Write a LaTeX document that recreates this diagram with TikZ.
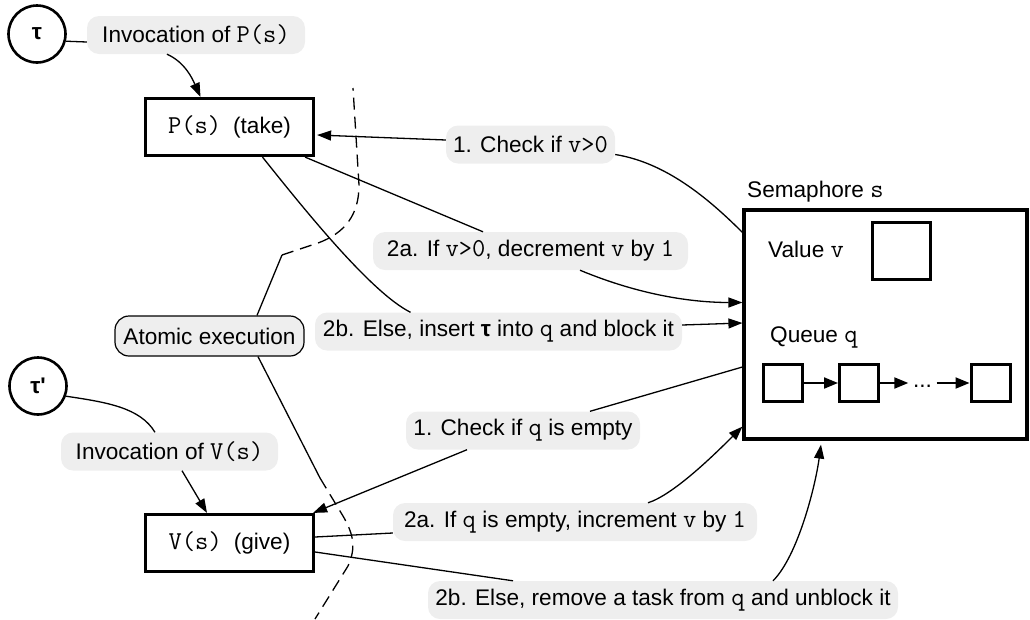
\documentclass[tikz,border=0pt]{standalone}
\usepackage{fontspec}
\setmainfont{Liberation Sans}
\setmonofont{Latin Modern Mono}[Scale=1.14]
\usetikzlibrary{arrows.meta}
\definecolor{lblgray}{HTML}{EEEEEE}
\begin{document}
\begin{tikzpicture}[x=1pt,y=-1pt,
  font=\fontsize{22.6}{27}\selectfont,
  conn/.style={line width=1.3pt},
  arr/.style={conn,-{Triangle[length=14pt,width=10pt]}},
  qarr/.style={line width=2pt,-{Triangle[length=14pt,width=11pt]}},
  dashln/.style={line width=1.3pt,dash pattern=on 12pt off 7pt},
  lbl/.style={fill=lblgray,rounded corners=12pt,inner xsep=0pt,inner ysep=0pt,minimum height=38pt},
  atomic/.style={lbl,draw,line width=1.2pt,rounded corners=14pt,minimum height=40pt},
  pbox/.style={draw,line width=3.2pt,minimum width=168pt,minimum height=57pt,inner sep=0pt},
  sbox/.style={draw,line width=3.2pt,inner sep=0pt},
  sq/.style={draw,line width=3pt,inner sep=0pt},
  circ/.style={draw,circle,line width=2.6pt,minimum size=57pt,inner sep=0pt},
  txt/.style={inner sep=0pt}
]
\useasboundingbox (0,0) rectangle (1030,619);

% nodes
\node[circ] (t1) at (37,34) {\bfseries τ};
\node[lbl,minimum width=218pt] (inv1) at (196,35) {Invocation of \texttt{P(s)}};
\node[pbox] (P) at (229.5,127) {\texttt{P(s)}\hspace{12pt}(take)};
\node[lbl,minimum width=169pt] (c1) at (530.5,144.5) {1. Check if \texttt{v>0}};
\node[lbl,minimum width=315pt] (a2) at (530.5,251) {2a. If \texttt{v>0}, decrement \texttt{v} by \texttt{1}};
\node[lbl,minimum width=367pt] (b2) at (498.5,331.5) {2b. Else, insert \textbf{τ} into \texttt{q} and block it};
\node[atomic,minimum width=189pt] (atom) at (209.5,336) {Atomic execution};
\node[circ] (t2) at (38,386) {\bfseries τ\textquotesingle};
\node[lbl,minimum width=217pt] (inv2) at (169.5,451.5) {Invocation of \texttt{V(s)}};
\node[pbox] (V) at (229.5,543) {\texttt{V(s)}\hspace{12pt}(give)};
\node[lbl,minimum width=234pt] (cq) at (523,430.5) {1. Check if \texttt{q} is empty};
\node[lbl,minimum width=364pt] (a2q) at (575,522) {2a. If \texttt{q} is empty, increment \texttt{v} by \texttt{1}};
\node[lbl,minimum width=470pt] (b2q) at (663,600) {2b. Else, remove a task from \texttt{q} and unblock it};

% semaphore
\node[sbox,minimum width=283pt,minimum height=229pt] (S) at (885.5,324.5) {};
\node[txt,anchor=base west] (stitle) at (747,197) {Semaphore \texttt{s}};
\node[txt,anchor=base west] (vlab) at (768,257) {Value \texttt{v}};
\node[sq,minimum width=58pt,minimum height=57pt] (vbox) at (901.5,251) {};
\node[txt,anchor=base west] (qlab) at (770,342) {Queue \texttt{q}};
\node[sq,minimum width=39pt,minimum height=37pt] (q1) at (783,383) {};
\node[sq,minimum width=39pt,minimum height=37pt] (q2) at (859,383) {};
\node[txt,minimum width=28pt] (dots) at (922.5,386) {...};
\node[sq,minimum width=39pt,minimum height=37pt] (q3) at (990.5,383) {};
\draw[qarr] (q1.east) -- (q2.west);
\draw[qarr] (q2.east) -- (q2.east -| dots.west);
\draw[qarr] (q3.west -| dots.east) -- (q3.west);

% connectors, P side
\draw[conn] (t1.-14) -- ([yshift=-7pt]inv1.west);
\draw[arr] ([xshift=-29pt]inv1.south) .. controls +(18,8) and +(-8,-18) .. ([xshift=-29pt]P.north);
\draw[arr] ([yshift=4.5pt]c1.west) -- ([yshift=-8pt,xshift=2pt]P.east);
\draw[conn] ([yshift=-10pt]c1.east) .. controls +(50,8) and +(-35,-35) .. ([yshift=-24pt]S.north west);
\draw[conn] ([xshift=-10pt]P.south east) -- ([xshift=-47.5pt]a2.north);
\draw[arr] ([xshift=49.5pt]a2.south) .. controls +(60,25) and +(-50,0) .. ([yshift=22pt]S.west);
\draw[conn] ([xshift=33pt]P.south) .. controls +(40,50) and +(-40,-20) .. ([xshift=-88pt]b2.north);
\draw[arr] ([yshift=6.5pt]b2.east) -- ([yshift=1.5pt]S.west);

% atomic execution boundary
\coordinate (d1) at (282,255);
\coordinate (d2) at (320,478);
\draw[conn] ([xshift=47.5pt]atom.north) -- (d1);
\draw[dashln] (d1) -- (318,243) .. controls (345,233) and (359,215) .. (359,185) -- (353,88);
\draw[conn] ([xshift=48.5pt]atom.south) -- (d2);
\draw[dashln] (d2) -- (343,516) .. controls (354,535) and (356,548) .. (348,566) -- (315,619);

% connectors, V side
\draw[conn] (t2.-20) .. controls +(40,6) and +(-15,-25) .. ([xshift=-14.5pt]inv2.north);
\draw[arr] ([xshift=12.5pt]inv2.south) -- ([xshift=-22.5pt]V.north);
\draw[conn] ([yshift=-42.5pt]S.west) -- ([xshift=67pt]cq.north);
\draw[arr] ([xshift=-56pt]cq.south) -- ([xshift=-2pt]V.north east);
\draw[conn] ([yshift=6pt]V.east) -- ([yshift=-11pt]a2q.west);
\draw[arr] ([xshift=73pt]a2q.north) .. controls +(25,-8) and +(-30,30) .. ([yshift=14pt]S.south west);
\draw[conn] ([yshift=-9pt]V.east) -- ([xshift=-150pt]b2q.north);
\draw[arr,shorten >=4pt] ([xshift=110pt]b2q.north) .. controls +(25,-25) and +(-6,45) .. ([xshift=-64pt]S.south);
\end{tikzpicture}
\end{document}
